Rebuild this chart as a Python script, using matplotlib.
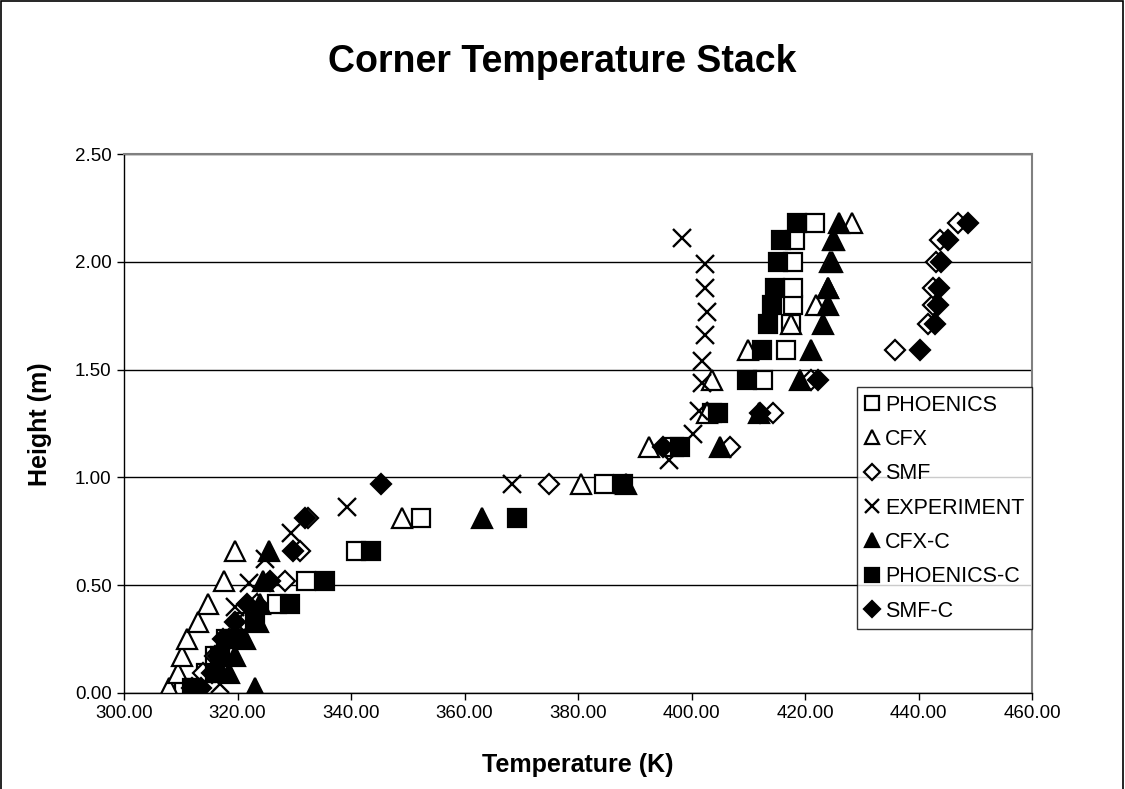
import matplotlib
matplotlib.use("Agg")
import matplotlib.pyplot as plt
from matplotlib.patches import Rectangle

plt.rcParams['font.family'] = ['Liberation Sans', 'DejaVu Sans']

# Heights (m) shared by the simulated series
heights = [0.02, 0.09, 0.17, 0.25, 0.33, 0.41, 0.52, 0.66, 0.81, 0.97,
           1.14, 1.30, 1.45, 1.59, 1.71, 1.80, 1.88, 2.00, 2.10, 2.18]

phoenics   = [310.5, 314.5, 316.0, 318.0, 321.0, 326.9, 332.0, 340.8, 352.3, 384.6,
              397.0, 403.6, 412.6, 416.6, 417.5, 417.8, 417.9, 417.9, 418.2, 421.7]
cfx        = [308.0, 309.5, 310.2, 311.1, 313.1, 314.8, 317.7, 319.6, 349.0, 380.5,
              392.5, 402.7, 403.7, 410.0, 417.5, 422.0, 424.0, 424.4, 425.0, 428.2]
smf        = [312.0, 314.0, 316.0, 318.5, 321.3, 323.5, 328.4, 331.0, 332.5, 374.9,
              406.8, 414.4, 421.0, 435.8, 441.7, 442.6, 442.6, 443.1, 443.8, 447.0]
cfx_c      = [323.0, 318.5, 319.6, 321.4, 323.7, 324.0, 324.5, 325.5, 363.1, 388.5,
              405.0, 411.9, 419.1, 421.0, 423.1, 424.1, 424.1, 424.7, 425.1, 426.0]
phoenics_c = [312.0, 316.0, 317.0, 319.5, 323.0, 329.3, 335.5, 343.5, 369.3, 387.9,
              398.0, 404.7, 409.7, 412.4, 413.5, 414.1, 414.7, 415.2, 415.8, 418.6]
smf_c      = [313.5, 315.5, 316.5, 317.5, 319.5, 321.6, 325.7, 329.8, 331.9, 345.2,
              395.0, 412.1, 422.3, 440.2, 442.9, 443.4, 443.7, 444.0, 445.2, 448.7]

exp_heights = [0.04, 0.40, 0.51, 0.62, 0.74, 0.86, 0.97, 1.08, 1.20, 1.31,
               1.44, 1.54, 1.66, 1.77, 1.88, 1.99, 2.11]
experiment  = [317.0, 319.6, 322.0, 324.9, 329.5, 339.3, 368.3, 396.0, 400.3, 401.4,
               401.8, 401.8, 402.4, 402.7, 402.4, 402.4, 398.3]

x_ticks = [300, 320, 340, 360, 380, 400, 420, 440, 460]
y_ticks = [0.0, 0.5, 1.0, 1.5, 2.0, 2.5]

fig = plt.figure(figsize=(11.25, 7.89), dpi=100)
fig.patches.append(Rectangle((0.001, -0.05), 0.997, 1.049, transform=fig.transFigure,
                             fill=False, edgecolor='black', linewidth=1.2))
ax = fig.add_axes([124/1125, 1-692.7/789, (1032-124)/1125, (692.7-154.3)/789])

ew = 1.6
sq = 12.5
tri = 14
dia = 10.5
ax.plot(phoenics, heights, linestyle='none', marker='s', markersize=sq,
        markerfacecolor='white', markeredgecolor='black', markeredgewidth=ew, label='PHOENICS')
ax.plot(cfx, heights, linestyle='none', marker='^', markersize=tri,
        markerfacecolor='white', markeredgecolor='black', markeredgewidth=ew, label='CFX')
ax.plot(smf, heights, linestyle='none', marker='D', markersize=dia,
        markerfacecolor='white', markeredgecolor='black', markeredgewidth=ew, label='SMF')
ax.plot(experiment, exp_heights, linestyle='none', marker='x', markersize=13,
        markeredgecolor='black', markeredgewidth=1.7, label='EXPERIMENT')
ax.plot(cfx_c, heights, linestyle='none', marker='^', markersize=tri,
        markerfacecolor='black', markeredgecolor='black', markeredgewidth=ew, label='CFX-C')
ax.plot(phoenics_c, heights, linestyle='none', marker='s', markersize=sq,
        markerfacecolor='black', markeredgecolor='black', markeredgewidth=ew, label='PHOENICS-C')
ax.plot(smf_c, heights, linestyle='none', marker='D', markersize=dia,
        markerfacecolor='black', markeredgecolor='black', markeredgewidth=ew, label='SMF-C')

ax.set_xlim(300, 460)
ax.set_ylim(0, 2.5)
ax.set_xticks(x_ticks)
ax.set_yticks(y_ticks)
ax.set_xticklabels([f"{v:.2f}" for v in x_ticks], fontsize=13.5)
ax.set_yticklabels([f"{v:.2f}" for v in y_ticks], fontsize=13.5)
ax.tick_params(direction='out', length=5, width=1, pad=4)
ax.yaxis.grid(True, color='black', linewidth=1)
ax.set_axisbelow(True)
for s in ['top', 'right']:
    ax.spines[s].set_color('#808080')
    ax.spines[s].set_linewidth(1.5)
for s in ['left', 'bottom']:
    ax.spines[s].set_color('black')
    ax.spines[s].set_linewidth(1)

fig.text(0.5, 1-62/789, 'Corner Temperature Stack', ha='center', va='center',
         fontsize=27, fontweight='bold')
fig.text(578/1125, 1-765/789, 'Temperature (K)', ha='center', va='center',
         fontsize=18, fontweight='bold')
fig.text(40/1125, 1-424/789, 'Height (m)', ha='center', va='center', rotation=90,
         fontsize=18, fontweight='bold')

leg = ax.legend(loc='upper left', bbox_to_anchor=(857/1125, 1-387/789),
                bbox_transform=fig.transFigure, fontsize=15.5, frameon=True,
                fancybox=False, edgecolor='black', handlelength=0.7,
                handletextpad=0.25, borderpad=0.35, labelspacing=0.62,
                markerscale=0.75, borderaxespad=0)
leg.get_frame().set_linewidth(1)

fig.savefig('out.png', dpi=100)
